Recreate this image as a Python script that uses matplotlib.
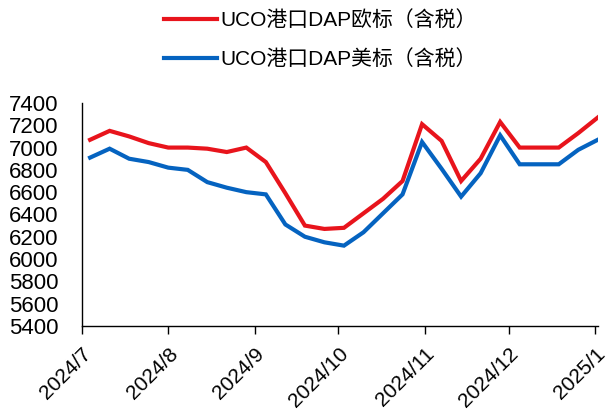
import matplotlib
matplotlib.use("Agg")
import matplotlib.pyplot as plt
import datetime as dt

dates = [dt.date(2024, 7, 4) + dt.timedelta(days=7 * i) for i in range(27)]
eu_values = [7070, 7150, 7100, 7040, 7000, 7000, 6990, 6960, 7000, 6870,
             6590, 6300, 6270, 6280, 6410, 6540, 6700, 7210, 7060, 6700,
             6900, 7230, 7000, 7000, 7000, 7130, 7270]
us_values = [6910, 6990, 6900, 6870, 6820, 6800, 6690, 6640, 6600, 6580,
             6310, 6200, 6150, 6120, 6240, 6410, 6580, 7050, 6810, 6560,
             6770, 7110, 6850, 6850, 6850, 6980, 7070]
series_names = ["UCO港口DAP欧标（含税）", "UCO港口DAP美标（含税）"]
yticks = list(range(5400, 7401, 200))
xtick_dates = [dt.date(2024, m, 1) for m in range(7, 13)] + [dt.date(2025, 1, 1)]
xtick_labels = ["2024/7", "2024/8", "2024/9", "2024/10", "2024/11", "2024/12", "2025/1"]

FONT = ["Liberation Sans", "Noto Sans CJK SC"]
plt.rcParams["font.family"] = FONT

fig = plt.figure(figsize=(6.1, 4.12), dpi=100)
ax = fig.add_axes([0.134, 0.209, 0.846, 0.541])

red = "#E8141C"
blue = "#0563C0"
l1, = ax.plot(dates, eu_values, color=red, lw=3, solid_joinstyle="miter")
l2, = ax.plot(dates, us_values, color=blue, lw=3, solid_joinstyle="miter")

ax.set_ylim(5400, 7400)
ax.set_yticks(yticks)
ax.set_yticklabels([str(v) for v in yticks], fontsize=16)
ax.set_xlim(dt.date(2024, 7, 1), dt.date(2025, 1, 2))
ax.set_xticks(xtick_dates)
ax.set_xticklabels(xtick_labels, fontsize=15, rotation=45, ha="right",
                   rotation_mode="anchor")
ax.tick_params(axis="y", length=0, pad=17)
ax.tick_params(axis="x", length=6, width=1, direction="out", pad=7)

for s in ["top", "right"]:
    ax.spines[s].set_visible(False)
for s in ["left", "bottom"]:
    ax.spines[s].set_color("black")
    ax.spines[s].set_linewidth(1)

leg = fig.legend([l1, l2], series_names, loc="upper left",
                 bbox_to_anchor=(0.2385, 1.02), frameon=False, fontsize=15,
                 handlelength=2.55, handletextpad=0.15, labelspacing=0.9)

fig.savefig("out.png", dpi=100)
